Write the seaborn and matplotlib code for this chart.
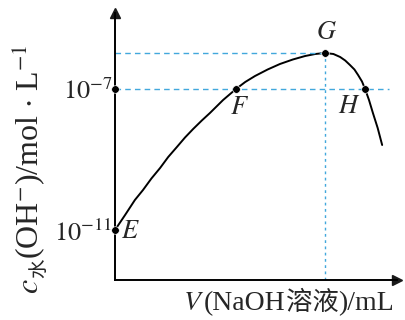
import numpy as np
import pandas as pd
import matplotlib
matplotlib.use('Agg')
import matplotlib.pyplot as plt
import seaborn as sns

# curve (x: NaOH volume, y: position on the log axis)
curve_x = [0.0, 0.36, 0.71, 1.0, 1.3, 1.61, 1.9, 2.21, 2.5, 2.79, 3.1, 3.39, 3.86, 4.32,
           4.65, 5.0, 5.45, 5.89, 6.35, 6.79, 7.15, 7.5, 7.8, 8.04, 8.22, 8.39, 8.55,
           8.68, 8.82, 8.93, 9.07, 9.21, 9.38, 9.54]
curve_y = [5.0, 6.5, 8.0, 9.0, 10.15, 11.2, 12.3, 13.3, 14.25, 15.1, 15.95, 16.7, 18.0, 19.1,
           19.8, 20.4, 21.05, 21.6, 22.05, 22.4, 22.6, 22.7, 22.6, 22.3, 21.95, 21.5, 21.05,
           20.5, 19.85, 19.1, 18.0, 16.7, 15.2, 13.5]

point_names = ['E', 'F', 'G', 'H']
point_x = [0.0, 4.32, 7.5, 8.93]
point_y = [5.0, 19.1, 22.7, 19.1]

tick_vals = [5.0, 19.1]
tick_labels = [r'$10^{-11}$', r'$10^{-7}$']

W, H = 406, 320

sns.set_theme(style='white')
plt.rcParams['font.family'] = ['Liberation Serif', 'Noto Sans CJK SC']
plt.rcParams['mathtext.fontset'] = 'stix'

fig = plt.figure(figsize=(W / 100, H / 100), dpi=100)
ax = fig.add_axes([115 / W, 1 - 280 / H, 282 / W, 267 / H])
ax.set_xlim(0, 10.07)
ax.set_ylim(0, 26.7)

df = pd.DataFrame({'x': curve_x, 'y': curve_y})
sns.lineplot(data=df, x='x', y='y', sort=False, color='black', linewidth=1.4, ax=ax)

# guide lines
dash_color = '#42a8dc'
gx, gy = point_x[2], point_y[2]
ax.plot([0, gx], [gy, gy], color=dash_color, lw=1, dashes=(4, 3))
ax.plot([gx, gx], [0, gy], color=dash_color, lw=1, dashes=(2, 2.5))
ax.plot([0, 9.8], [tick_vals[1], tick_vals[1]], color=dash_color, lw=1, dashes=(4, 3))

pts = pd.DataFrame({'x': point_x + [0.0], 'y': point_y + [tick_vals[1]]})
sns.scatterplot(data=pts, x='x', y='y', color='black', s=30, zorder=5, clip_on=False, ax=ax)

# point names
label_pos = {'E': (0.2, 4.8, 'left'), 'F': (4.45, 17.2, 'center'),
             'G': (7.55, 24.7, 'center'), 'H': (8.35, 17.3, 'center')}
for n in point_names:
    lx, ly, ha = label_pos[n]
    ax.text(lx, ly, '$' + n + '$', fontsize=19, ha=ha, va='center')

ax.set_yticks(tick_vals)
ax.set_yticklabels(tick_labels, fontsize=19)
ax.set_xticks([])
ax.tick_params(axis='y', length=0, pad=2)
ax.set_xlabel('')
ax.set_ylabel('')
sns.despine(ax=ax)
for s in ['left', 'bottom']:
    ax.spines[s].set_color('black')
    ax.spines[s].set_linewidth(1.4)
ax.plot(1, 0, '>k', ms=7, transform=ax.transAxes, clip_on=False)
ax.plot(0, 1, '^k', ms=7, transform=ax.transAxes, clip_on=False)


def place_pieces(pieces, x0, y0, rotation=0):
    # lay text pieces one after another, positions in pixels from bottom-left
    renderer = fig.canvas.get_renderer()
    pos = 0.0
    for s, size, shift in pieces:
        if rotation == 0:
            px, py = x0 + pos, y0 - shift
        else:
            px, py = x0 + shift, y0 + pos
        t = fig.text(px / W, py / H, s, fontsize=size, rotation=rotation,
                     rotation_mode='anchor', ha='left', va='baseline')
        bb = t.get_window_extent(renderer)
        pos += bb.width if rotation == 0 else bb.height


place_pieces([('$V$', 20, 0), ('(NaOH', 20, 0), ('溶液', 19, 0), (')/mL', 20, 0)],
             183, H - 310)
place_pieces([('$c$', 23, 0), ('水', 14, 6),
              (r'(OH$^{-}$)/mol $\cdot$ L$^{-1}$', 23, 0)],
             38, H - 294, rotation=90)

fig.savefig('out.png', dpi=100)
